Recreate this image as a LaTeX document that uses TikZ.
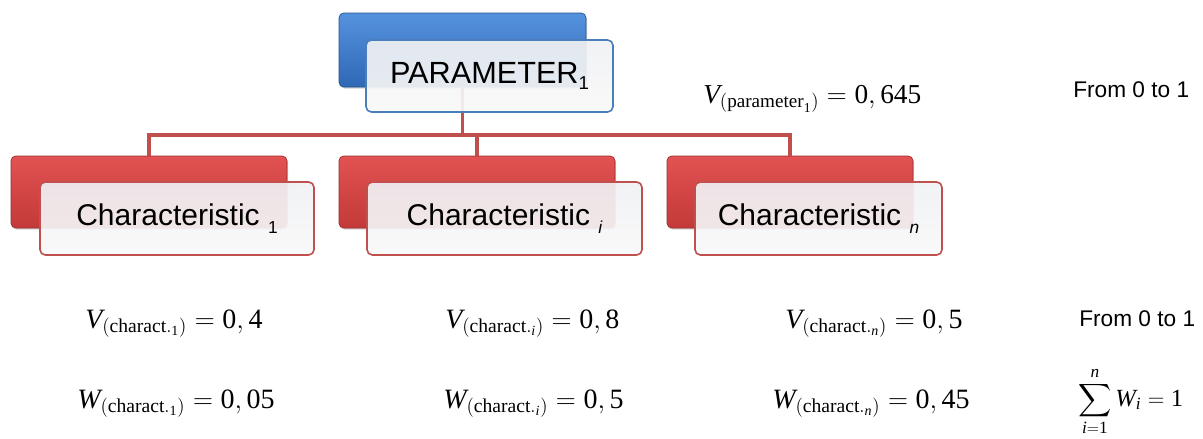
\documentclass[tikz,border=0pt]{standalone}
\usepackage{exscale}
\usepackage{fontspec}
\setmainfont{Liberation Serif}
\newfontfamily\arial{Liberation Sans}
\usetikzlibrary{shadows}
\definecolor{bluetop}{HTML}{5592DD}
\definecolor{bluebot}{HTML}{2F68B5}
\definecolor{blueedge}{HTML}{4A7EBB}
\definecolor{redtop}{HTML}{E25252}
\definecolor{redbot}{HTML}{C23A38}
\definecolor{rededge}{HTML}{C0504D}
\definecolor{wtop}{HTML}{F0F1F4}
\definecolor{wbot}{HTML}{F8F8F8}
\newcommand{\nm}[1]{\mathrm{#1}}
\tikzset{
  back/.style={rounded corners=3.5pt, inner sep=0pt, draw=#1!80!black, line width=0.5pt,
     drop shadow={shadow xshift=0.8pt, shadow yshift=-1.2pt, opacity=0.35}},
  bluebox/.style={back=bluebot, top color=bluetop, bottom color=bluebot},
  redbox/.style={back=redbot, top color=redtop, bottom color=redbot},
  front/.style={rounded corners=4pt, inner sep=0pt, line width=1.2pt, draw=#1,
     top color=wtop, bottom color=wbot, fill opacity=0.92, text opacity=1},
  link/.style={draw=rededge, line width=2.4pt},
  lbl/.style={font=\arial\fontsize{22.5pt}{24pt}\selectfont, text=black},
  frm/.style={anchor=base west, inner sep=0pt, font=\fontsize{21pt}{25pt}\selectfont},
  rng/.style={anchor=base west, inner sep=0pt, font=\arial\fontsize{17pt}{19pt}\selectfont},
}
\begin{document}
\begin{tikzpicture}[x=0.75pt, y=-0.75pt]
\useasboundingbox (0,0) rectangle (1203,439);
% coloured back boxes
\node[bluebox, minimum width=185.25pt, minimum height=55.5pt] (pb) at (462.5,50) {};
\node[redbox, minimum width=207pt, minimum height=54pt] (r1) at (149,192) {};
\node[redbox, minimum width=207pt, minimum height=54pt] (r2) at (477,192) {};
\node[redbox, minimum width=184.5pt, minimum height=54pt] (r3) at (790,192) {};
% connectors
\coordinate (hub) at (462.5,135);
\draw[link] (pb.south) -- (hub);
\draw[link] (r1.north) |- (hub);
\draw[link] (r2.north) |- (hub);
\draw[link] (r3.north) |- (hub);
% front boxes
\node[front=blueedge, lbl, font=\arial\fontsize{23pt}{25pt}\selectfont, minimum width=185.25pt, minimum height=54pt] (p) at (489.5,76)
  {PARAMETER\raisebox{-5pt}{\fontsize{14pt}{14pt}\selectfont 1}};
\node[front=rededge, lbl, minimum width=205.5pt, minimum height=54.75pt] (c1) at (177,218.5)
  {Characteristic \raisebox{-6pt}{\fontsize{13pt}{13pt}\selectfont 1}};
\node[front=rededge, lbl, minimum width=206.25pt, minimum height=54.75pt] (c2) at (504.5,218.5)
  {Characteristic \raisebox{-6pt}{\fontsize{13pt}{13pt}\selectfont\itshape i}};
\node[front=rededge, lbl, minimum width=185.25pt, minimum height=54.75pt] (c3) at (818.5,218.5)
  {Characteristic \raisebox{-6pt}{\fontsize{13pt}{13pt}\selectfont\itshape n}};
% formulas
\node[frm, font=\fontsize{20.5pt}{25pt}\selectfont] (vp) at (703,103)
  {$\mathit{V}_{(\nm{parameter}_{\nm{1}})}=\nm{0},\nm{645}$};
\node[frm] (v1) at (85,328) {$\mathit{V}_{(\nm{charact.}_{\nm{1}})}=\nm{0},\nm{4}$};
\node[frm] (w1) at (77,408) {$\mathit{W}_{(\nm{charact.}_{\nm{1}})}=\nm{0},\nm{05}$};
\node[frm] (v2) at (445,328) {$\mathit{V}_{(\nm{charact.}_{\mathit{i}})}=\nm{0},\nm{8}$};
\node[frm] (w2) at (443,408) {$\mathit{W}_{(\nm{charact.}_{\mathit{i}})}=\nm{0},\nm{5}$};
\node[frm] (v3) at (785,328) {$\mathit{V}_{(\nm{charact.}_{\mathit{n}})}=\nm{0},\nm{5}$};
\node[frm] (w3) at (772,408) {$\mathit{W}_{(\nm{charact.}_{\mathit{n}})}=\nm{0},\nm{45}$};
\node[frm, font=\fontsize{18.5pt}{22pt}\selectfont] (sum) at (1078,406)
  {$\displaystyle\sum_{\mathit{i}=\nm{1}}^{\mathit{n}}\mathit{W}_{\mathit{i}}=\nm{1}$};
% ranges
\node[rng] (f1) at (1073,97) {From 0 to 1};
\node[rng] (f2) at (1079,326) {From 0 to 1};
\end{tikzpicture}
\end{document}
